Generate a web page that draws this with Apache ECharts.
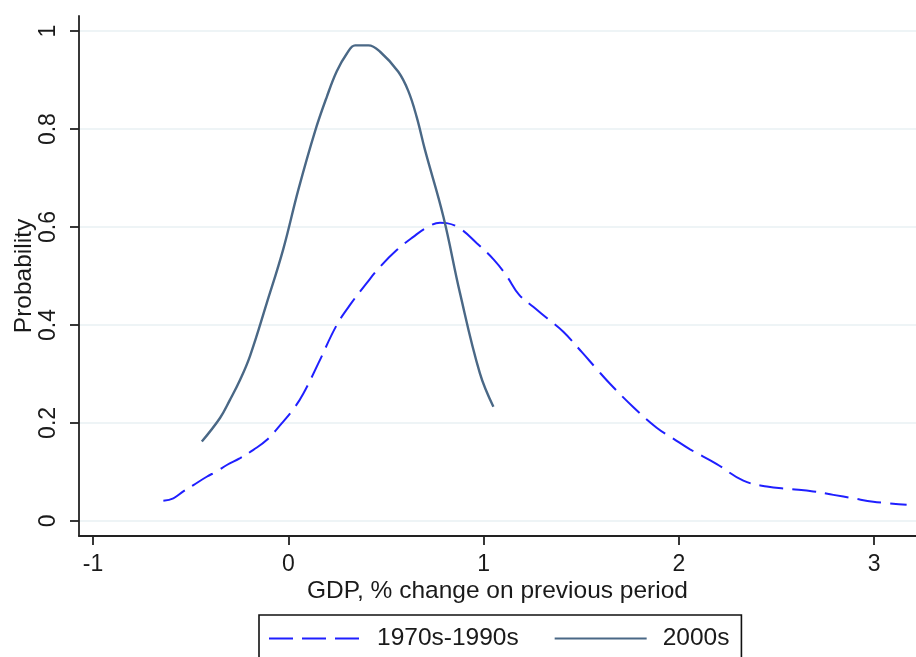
<!DOCTYPE html>
<html>
<head>
<meta charset="utf-8">
<title>GDP growth distribution</title>
<script src="https://cdn.jsdelivr.net/npm/echarts@6/dist/echarts.min.js"></script>
<style>
  html, body { margin: 0; padding: 0; background: #ffffff; }
  #chart { width: 916px; height: 657px; }
</style>
</head>
<body>
<div id="chart"></div>
<script>
// Kernel density of quarterly GDP growth, two periods
const seriesNames = ['1970s-1990s', '2000s'];

const gdp7090 = [-0.640, -0.589, -0.538, -0.486, -0.418, -0.367, -0.315, -0.247, -0.179, -0.111,
  -0.034, 0.026, 0.077, 0.154, 0.248, 0.325, 0.400, 0.470, 0.555, 0.640,
  0.709, 0.777, 0.811, 0.879, 0.965, 1.053, 1.118, 1.181, 1.254, 1.327,
  1.408, 1.502, 1.579, 1.647, 1.767, 1.886, 1.971, 2.057, 2.194, 2.330,
  2.450, 2.569, 2.688, 2.791, 2.893, 2.995, 3.166];
const prob7090 = [0.041, 0.046, 0.060, 0.073, 0.090, 0.101, 0.114, 0.128, 0.145, 0.165,
  0.199, 0.228, 0.260, 0.322, 0.400, 0.446, 0.485, 0.519, 0.553, 0.580,
  0.599, 0.609, 0.608, 0.597, 0.567, 0.533, 0.500, 0.462, 0.437, 0.413,
  0.386, 0.345, 0.310, 0.280, 0.232, 0.190, 0.168, 0.146, 0.116, 0.082,
  0.070, 0.065, 0.060, 0.053, 0.046, 0.039, 0.033];

const gdp2000 = [-0.443, -0.350, -0.299, -0.247, -0.196, -0.111, -0.026, 0.051, 0.137, 0.197,
  0.248, 0.299, 0.342, 0.410, 0.470, 0.563, 0.614, 0.657, 0.700, 0.794,
  0.879, 0.981, 1.050];
const prob2000 = [0.162, 0.210, 0.247, 0.288, 0.337, 0.444, 0.555, 0.676, 0.796, 0.866,
  0.918, 0.954, 0.971, 0.971, 0.958, 0.917, 0.878, 0.825, 0.757, 0.621,
  0.465, 0.301, 0.233];

const xTicks = [-1, 0, 1, 2, 3];
const yTicks = [0, 0.2, 0.4, 0.6, 0.8, 1];

const pairs = (xs, ys) => xs.map((x, i) => [x, ys[i]]);

const FONT = '"Liberation Sans", Arial, sans-serif';
const INK = '#1a1a1a';

const chart = echarts.init(document.getElementById('chart'), null, { renderer: 'canvas' });

chart.setOption({
  backgroundColor: '#ffffff',
  animation: false,
  textStyle: { fontFamily: FONT, color: INK },
  grid: { left: 79, right: 0, top: 16, bottom: 121, containLabel: false, outerBoundsMode: 'none' },
  legend: {
    left: 259,
    top: 615,
    orient: 'horizontal',
    padding: [11, 12, 11, 9],
    itemGap: 35,
    itemWidth: 92,
    itemHeight: 14,
    borderColor: '#111111',
    borderWidth: 1.6,
    backgroundColor: '#ffffff',
    itemStyle: { opacity: 0 },
    textStyle: { fontFamily: FONT, fontSize: 24.5, color: INK, padding: [0, 0, 0, 11] },
    data: seriesNames
  },
  xAxis: {
    type: 'value',
    min: -1.072,
    max: 3.214,
    name: 'GDP, % change on previous period',
    nameLocation: 'middle',
    nameGap: 43,
    nameMoveOverlap: false,
    nameTextStyle: { fontFamily: FONT, fontSize: 24.5, color: INK },
    axisLine: { onZero: false, lineStyle: { color: '#222222', width: 1.8 } },
    axisTick: { show: true, length: 9, customValues: xTicks, lineStyle: { color: '#222222', width: 1.8 } },
    axisLabel: { customValues: xTicks, margin: 17, fontFamily: FONT, fontSize: 23, color: INK },
    splitLine: { show: false }
  },
  yAxis: {
    type: 'value',
    min: -0.031,
    max: 1.031,
    name: 'Probability',
    nameLocation: 'middle',
    nameGap: 42,
    nameRotate: 90,
    nameMoveOverlap: false,
    nameTextStyle: { fontFamily: FONT, fontSize: 24.5, color: INK },
    axisLine: { show: true, onZero: false, lineStyle: { color: '#222222', width: 1.8 } },
    axisTick: { show: true, length: 9, customValues: yTicks, lineStyle: { color: '#222222', width: 1.8 } },
    axisLabel: { customValues: yTicks, rotate: 90, margin: 19, fontFamily: FONT, fontSize: 23, color: INK },
    splitLine: { show: true, lineStyle: { color: '#e9f1f3', width: 1.6 } }
  },
  series: [
    {
      name: seriesNames[0],
      type: 'line',
      data: pairs(gdp7090, prob7090),
      showSymbol: false,
      symbol: 'none',
      smooth: 0.4,
      lineStyle: { color: '#1f1fff', width: 2, type: [24, 9] },
      itemStyle: { color: '#1f1fff' },
      z: 3
    },
    {
      name: seriesNames[1],
      type: 'line',
      data: pairs(gdp2000, prob2000),
      showSymbol: false,
      symbol: 'none',
      smooth: 0.4,
      lineStyle: { color: '#4a6886', width: 2.4, type: 'solid' },
      itemStyle: { color: '#4a6886' },
      z: 4
    }
  ]
});
</script>
</body>
</html>
